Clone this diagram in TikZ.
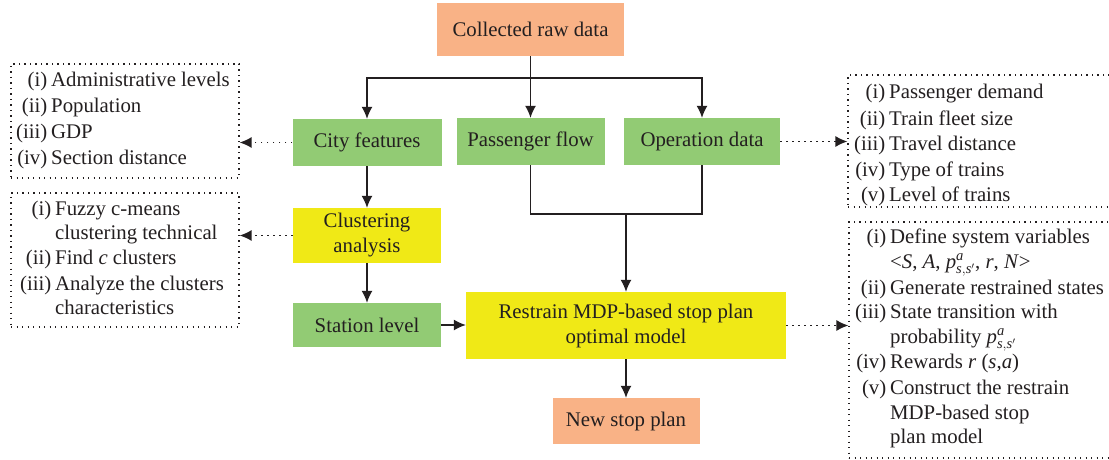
\documentclass[tikz,border=0pt]{standalone}
\usepackage{amsmath}
\usepackage{fontspec}
\setmainfont{Liberation Serif}
\usetikzlibrary{arrows.meta}
\definecolor{boxorange}{HTML}{F9B286}
\definecolor{boxgreen}{HTML}{92CB74}
\definecolor{boxyellow}{HTML}{F0E916}
\definecolor{ink}{HTML}{231F20}
\newcommand\pss{\textit{p}$^{\textit{a}}_{\textit{s},\textit{s}'}$}
\newcommand\itemline[5]{%
  \node[lab] (#1l) at ({#2-3.5},#3) {#4};
  \node[txt] (#1t) at (#2,#3) {#5};}
\begin{document}
\begin{tikzpicture}[x=1pt,y=-1pt,
  every node/.style={font=\fontsize{20.8}{25}\selectfont, text=ink},
  procbox/.style={rectangle, inner sep=0pt, align=center},
  arr/.style={draw=ink, line width=1.3pt, -{Latex[length=12pt,width=11pt]}},
  ln/.style={draw=ink, line width=1.3pt},
  dotarr/.style={draw=ink, line width=1.4pt, dash pattern=on 1.4pt off 4.6pt, -{Latex[length=12pt,width=11pt]}},
  dotbox/.style={draw=ink, line width=1.2pt, dash pattern=on 1.2pt off 4.3pt, inner sep=0pt},
  lab/.style={anchor=base east, inner sep=0pt},
  txt/.style={anchor=base west, inner sep=0pt}]
\useasboundingbox (0,0) rectangle (1109,460);
\clip (0,0) rectangle (1109,460);
\fill[white] (0,0) rectangle (1109,460);

% process boxes
\node[procbox, fill=boxorange, minimum width=187pt, minimum height=53pt] (col) at (530.5,29.5) {Collected raw data};
\node[procbox, fill=boxgreen, minimum width=149pt, minimum height=47pt] (city) at (367,142.5) {City features};
\node[procbox, fill=boxgreen, minimum width=148pt, minimum height=47pt] (pass) at (530.5,141.5) {Passenger flow};
\node[procbox, fill=boxgreen, minimum width=156pt, minimum height=47pt] (oper) at (702,141.5) {Operation data};
\node[procbox, fill=boxyellow, minimum width=148pt, minimum height=55pt] (clus) at (367,235.5) {Clustering\\analysis};
\node[procbox, fill=boxgreen, minimum width=148pt, minimum height=44pt] (stat) at (367,325) {Station level};
\node[procbox, fill=boxyellow, minimum width=320pt, minimum height=67pt] (restr) at (626,325.5) {Restrain MDP-based stop plan\\optimal model};
\node[procbox, fill=boxorange, minimum width=147pt, minimum height=46pt] (new) at (626,421) {New stop plan};

% dotted lists
\node[dotbox, minimum width=228pt, minimum height=114pt] (lb1) at (125,121) {};
\node[dotbox, minimum width=228pt, minimum height=134pt] (lb2) at (125,260) {};
\node[dotbox, minimum width=282pt, minimum height=132pt] (rb1) at (989,141) {};
\node[dotbox, minimum width=281pt, minimum height=236pt] (rb2) at (989.5,340) {};

\itemline{a1}{51}{87}{(i)}{Administrative levels}
\itemline{a2}{51}{113}{(ii)}{Population}
\itemline{a3}{51}{138}{(iii)}{GDP}
\itemline{a4}{51}{164}{(iv)}{Section distance}

\itemline{b1}{55}{215}{(i)}{Fuzzy c-means}
\itemline{b2}{55}{239}{}{clustering technical}
\itemline{b3}{55}{264}{(ii)}{Find \textit{c} clusters}
\itemline{b4}{55}{290}{(iii)}{Analyze the clusters}
\itemline{b5}{55}{314}{}{characteristics}

\itemline{c1}{889}{99}{(i)}{Passenger demand}
\itemline{c2}{889}{125}{(ii)}{Train fleet size}
\itemline{c3}{889}{150}{(iii)}{Travel distance}
\itemline{c4}{889}{176}{(iv)}{Type of trains}
\itemline{c5}{889}{201}{(v)}{Level of trains}

\itemline{d1}{890}{243}{(i)}{Define system variables}
\itemline{d2}{890}{268}{}{\textless\textit{S}, \textit{A}, \pss, \textit{r}, \textit{N}\textgreater}
\itemline{d3}{890}{294}{(ii)}{Generate restrained states}
\itemline{d4}{890}{318}{(iii)}{State transition with}
\itemline{d5}{890}{343}{}{probability \pss}
\itemline{d6}{890}{368}{(iv)}{Rewards \textit{r} (\textit{s},\textit{a})}
\itemline{d7}{890}{394}{(v)}{Construct the restrain}
\itemline{d8}{890}{419}{}{MDP-based stop}
\itemline{d9}{890}{443}{}{plan model}

% connectors
\coordinate (split) at (530.5,78);
\draw[ln] (col.south) -- (split);
\draw[arr] (split) -| (city.north);
\draw[arr] (split) -| (oper.north);
\draw[arr] (split) -- (pass.north);
\coordinate (join) at (626,214);
\draw[ln] (pass.south) |- (join) -| (oper.south);
\draw[arr] (join) -- (restr.north);
\draw[arr] (city) -- (clus);
\draw[arr] (clus) -- (stat);
\draw[arr] (stat.east) -- (stat.east -| restr.west);
\draw[arr] (restr) -- (new);

\draw[dotarr] (city.west) -- (city.west -| lb1.east);
\draw[dotarr] (clus.west) -- (clus.west -| lb2.east);
\draw[dotarr] (oper.east) -- (oper.east -| rb1.west);
\draw[dotarr] (restr.east) -- (restr.east -| rb2.west);
\end{tikzpicture}
\end{document}
